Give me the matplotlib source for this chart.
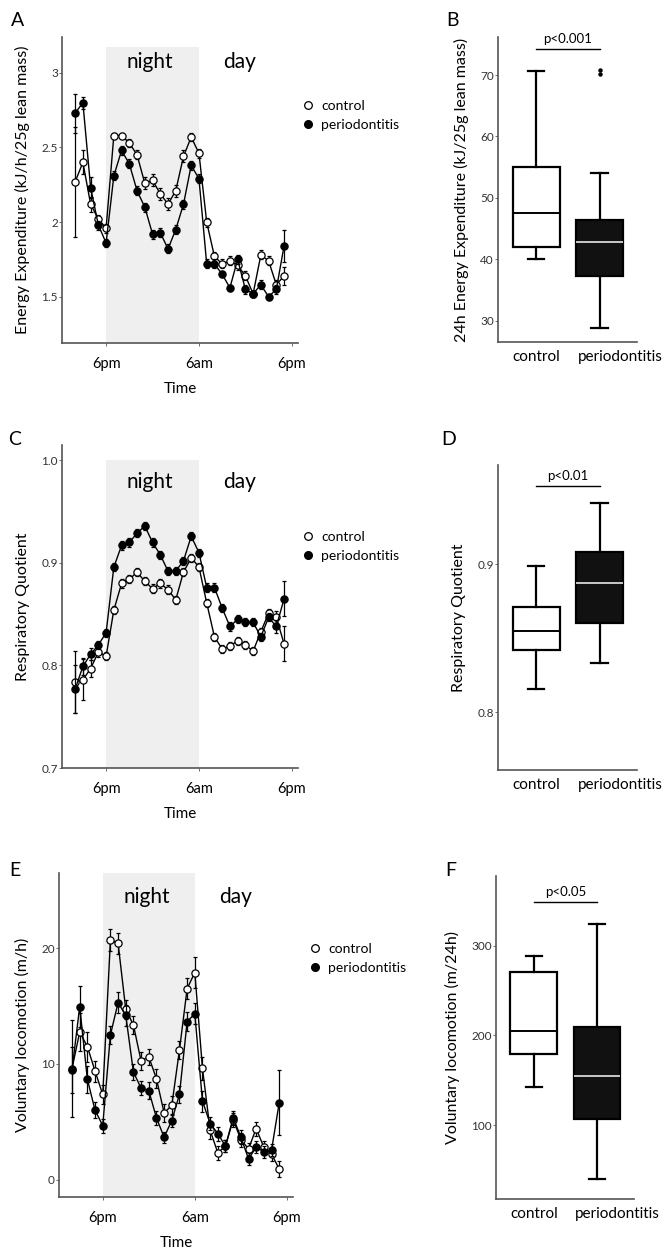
import matplotlib
matplotlib.use("Agg")
import matplotlib.pyplot as plt
from matplotlib.lines import Line2D

plt.rcParams['font.family'] = ['Lato', 'DejaVu Sans']

# hours relative to 6pm (one point per hour, 2pm .. 5pm next day)
hours = list(range(-4, 24))

ee_ctrl = [2.27, 2.40, 2.12, 2.02, 1.96, 2.58, 2.58, 2.53, 2.45, 2.26, 2.28, 2.19, 2.12, 2.21,
           2.44, 2.57, 2.46, 2.00, 1.77, 1.72, 1.74, 1.71, 1.64, 1.52, 1.78, 1.74, 1.58, 1.64]
ee_ctrl_err = [0.37, 0.08, 0.05, 0.03, 0.03, 0.02, 0.02, 0.03, 0.03, 0.04, 0.04, 0.04, 0.04, 0.04,
               0.04, 0.03, 0.03, 0.03, 0.03, 0.03, 0.03, 0.03, 0.03, 0.02, 0.03, 0.03, 0.03, 0.06]
ee_perio = [2.73, 2.80, 2.23, 1.98, 1.86, 2.31, 2.48, 2.39, 2.21, 2.10, 1.92, 1.93, 1.82, 1.95,
            2.12, 2.38, 2.29, 1.72, 1.72, 1.65, 1.56, 1.75, 1.55, 1.52, 1.58, 1.50, 1.55, 1.84]
ee_perio_err = [0.13, 0.04, 0.07, 0.03, 0.03, 0.03, 0.03, 0.03, 0.03, 0.03, 0.03, 0.03, 0.03, 0.03,
                0.03, 0.03, 0.03, 0.03, 0.03, 0.02, 0.02, 0.03, 0.03, 0.02, 0.03, 0.02, 0.03, 0.11]

rq_ctrl = [0.784, 0.786, 0.797, 0.813, 0.809, 0.854, 0.880, 0.884, 0.891, 0.882, 0.875, 0.880, 0.874, 0.864,
           0.891, 0.905, 0.896, 0.861, 0.828, 0.816, 0.819, 0.824, 0.820, 0.814, 0.833, 0.851, 0.847, 0.821]
rq_ctrl_err = [0.030, 0.020, 0.008, 0.005, 0.004, 0.004, 0.004, 0.004, 0.004, 0.004, 0.004, 0.004, 0.004, 0.004,
               0.004, 0.004, 0.004, 0.004, 0.004, 0.004, 0.004, 0.004, 0.004, 0.004, 0.004, 0.004, 0.006, 0.017]
rq_perio = [0.777, 0.799, 0.811, 0.820, 0.832, 0.896, 0.917, 0.920, 0.929, 0.936, 0.920, 0.908, 0.892, 0.892,
            0.902, 0.926, 0.910, 0.876, 0.876, 0.856, 0.838, 0.845, 0.842, 0.842, 0.828, 0.847, 0.838, 0.865]
rq_perio_err = [0.023, 0.008, 0.006, 0.004, 0.004, 0.004, 0.004, 0.004, 0.004, 0.004, 0.004, 0.004, 0.004, 0.004,
                0.004, 0.004, 0.004, 0.004, 0.004, 0.004, 0.004, 0.004, 0.004, 0.004, 0.004, 0.004, 0.006, 0.017]

loc_ctrl = [9.6, 12.76, 11.49, 9.38, 7.36, 20.69, 20.43, 14.72, 13.36, 10.25, 10.62, 8.72, 5.77, 6.41,
            11.2, 16.5, 17.9, 9.61, 4.27, 2.31, 2.9, 5.19, 3.46, 2.66, 4.41, 2.80, 2.22, 0.92]
loc_ctrl_err = [4.2, 1.6, 1.3, 0.9, 0.8, 0.95, 0.9, 0.8, 0.8, 0.8, 0.7, 0.8, 0.8, 0.8,
                0.8, 0.9, 1.3, 1.0, 0.8, 0.6, 0.5, 0.6, 0.6, 0.5, 0.6, 0.5, 0.6, 0.7]
loc_perio = [9.5, 14.95, 8.66, 6.0, 4.67, 12.5, 15.3, 14.2, 9.3, 7.9, 7.7, 5.34, 3.66, 5.11,
             7.36, 13.65, 14.34, 6.78, 4.85, 3.98, 2.89, 5.34, 3.69, 1.79, 2.80, 2.40, 2.54, 6.64]
loc_perio_err = [2.0, 1.8, 1.2, 0.7, 0.6, 0.8, 0.9, 0.9, 0.7, 0.6, 0.7, 0.6, 0.5, 0.6,
                 0.7, 0.8, 0.9, 0.9, 0.6, 0.6, 0.5, 0.6, 0.6, 0.5, 0.5, 0.5, 0.5, 2.8]

groups = ['control', 'periodontitis']
# box stats: whislo, q1, med, q3, whishi
ee24_ctrl = [40.0, 42.0, 47.6, 55.0, 70.7]
ee24_perio = [28.7, 37.3, 42.8, 46.4, 54.1]
ee24_perio_fliers = [70.2, 70.9]
rq24_ctrl = [0.8155, 0.842, 0.855, 0.871, 0.899]
rq24_perio = [0.833, 0.860, 0.887, 0.908, 0.941]
loc24_ctrl = [142, 179.7, 204.5, 270.3, 288.5]
loc24_perio = [39.8, 106.7, 154.6, 208.8, 324.5]

W, H = 668, 1257
fig = plt.figure(figsize=(W / 100, H / 100), dpi=100)
SPINE = '#555555'
TICKC = '#333333'


def px_axes(l, t, r, b):
    return fig.add_axes([l / W, 1 - b / H, (r - l) / W, (b - t) / H])


def style(ax):
    for s in ['top', 'right']:
        ax.spines[s].set_visible(False)
    for s in ['left', 'bottom']:
        ax.spines[s].set_color(SPINE)
        ax.spines[s].set_linewidth(1.2)
    ax.tick_params(axis='y', length=2, width=0.6, color=SPINE, labelsize=8.5, labelcolor=TICKC, pad=1)
    ax.tick_params(axis='x', length=2, width=0.6, color=SPINE, labelsize=10.5, pad=8)


def time_panel(ax, yc, ec, yp, ep, ylim, shade_top, ylabel, yticks, yticklabels, label_y):
    ax.axvspan(0, 12, ymin=0, ymax=(shade_top - ylim[0]) / (ylim[1] - ylim[0]),
               color='#efefef', lw=0, zorder=0)
    ax.errorbar(hours, yc, yerr=ec, color='black', lw=1, marker='o', ms=5.2, mfc='white',
                mec='black', mew=0.9, elinewidth=0.9, capsize=1.6, capthick=0.9, zorder=3)
    ax.errorbar(hours, yp, yerr=ep, color='black', lw=1, marker='o', ms=5.2, mfc='black',
                mec='black', mew=0.9, elinewidth=0.9, capsize=1.6, capthick=0.9, zorder=4)
    ax.set_xlim(-5.7, 24.8)
    ax.set_ylim(*ylim)
    ax.set_xticks([0, 12, 24])
    ax.set_xticklabels(['6pm', '6am', '6pm'])
    ax.set_yticks(yticks)
    ax.set_yticklabels(yticklabels)
    style(ax)
    ax.set_xlabel('Time', fontsize=11, labelpad=8)
    ax.set_ylabel(ylabel, fontsize=11.5, labelpad=8)
    ax.text(5.7, label_y, 'night', transform=ax.get_xaxis_transform(), ha='center', va='center', fontsize=15)
    ax.text(17.3, label_y, 'day', transform=ax.get_xaxis_transform(), ha='center', va='center', fontsize=15)


def legend_at(x, y):
    handles = [Line2D([], [], ls='none', marker='o', ms=5.5, mfc='white', mec='black', mew=0.9),
               Line2D([], [], ls='none', marker='o', ms=5.5, mfc='black', mec='black')]
    fig.legend(handles, groups, loc='upper left', bbox_to_anchor=(x / W, 1 - y / H),
               frameon=False, fontsize=10, handlelength=0.8, handletextpad=0.6,
               labelspacing=0.5, borderpad=0, borderaxespad=0)


def box_panel(ax, ctrl, perio, fliers, ylim, ylabel, yticks, yticklabels, sig_y, sig_txt):
    stats = []
    for name, s, f in [(groups[0], ctrl, []), (groups[1], perio, fliers)]:
        stats.append(dict(label=name, whislo=s[0], q1=s[1], med=s[2], q3=s[3], whishi=s[4], fliers=f))
    bp = ax.bxp(stats, positions=[0, 1], widths=0.74, patch_artist=True, showfliers=True,
                boxprops=dict(lw=1.6, edgecolor='black'),
                whiskerprops=dict(lw=1.6, color='black'),
                capprops=dict(lw=1.6, color='black'),
                medianprops=dict(lw=1.4),
                flierprops=dict(marker='o', ms=2.2, mfc='black', mec='black'))
    bp['boxes'][0].set_facecolor('white')
    bp['boxes'][1].set_facecolor('#111111')
    bp['medians'][0].set_color('black')
    bp['medians'][1].set_color('#c8c8c8')
    for c in bp['caps']:
        xd = c.get_xdata()
        mid = (xd[0] + xd[1]) / 2
        c.set_xdata([mid - 0.13, mid + 0.13])
    ax.set_xlim(-0.6, 1.59)
    ax.set_ylim(*ylim)
    ax.set_yticks(yticks)
    ax.set_yticklabels(yticklabels)
    style(ax)
    # category labels sit a little right of the boxes, as in the original figure
    ax.set_xticks([0, 1.33])
    ax.set_xticklabels(groups)
    ax.tick_params(axis='x', length=0, labelsize=11, pad=6)
    ax.set_ylabel(ylabel, fontsize=11.5, labelpad=8)
    ax.plot([0, 1], [sig_y, sig_y], color='black', lw=1, clip_on=False)
    ax.annotate(sig_txt, (0.5, sig_y), xytext=(0, 3), textcoords='offset points',
                ha='center', va='bottom', fontsize=9.5, annotation_clip=False)


# A
axA = px_axes(62, 37, 298, 343)
time_panel(axA, ee_ctrl, ee_ctrl_err, ee_perio, ee_perio_err, (1.19, 3.24), 3.17,
           'Energy Expenditure (kJ/h/25g lean mass)', [1.5, 2, 2.5, 3], ['1.5', '2', '2.5', '3'], 0.918)
legend_at(302, 100)

# B
axB = px_axes(498, 37, 637, 342)
box_panel(axB, ee24_ctrl, ee24_perio, ee24_perio_fliers, (26.5, 76.2),
          '24h Energy Expenditure (kJ/25g lean mass)', [30, 40, 50, 60, 70],
          ['30', '40', '50', '60', '70'], 74.2, 'p<0.001')

# C
axC = px_axes(62, 445, 298, 768)
time_panel(axC, rq_ctrl, rq_ctrl_err, rq_perio, rq_perio_err, (0.7, 1.015), 1.0,
           'Respiratory Quotient', [0.7, 0.8, 0.9, 1.0], ['0.7', '0.8', '0.9', '1.0'], 0.885)
legend_at(302, 531)

# D
axD = px_axes(498, 465, 637, 770)
box_panel(axD, rq24_ctrl, rq24_perio, [], (0.761, 0.967), 'Respiratory Quotient',
          [0.8, 0.9], ['0.8', '0.9'], 0.9526, 'p<0.01')

# E
axE = px_axes(59, 873, 293, 1197)
time_panel(axE, loc_ctrl, loc_ctrl_err, loc_perio, loc_perio_err, (-1.5, 26.5), 26.5,
           'Voluntary locomotion (m/h)', [0, 10, 20], ['0', '10', '20'], 0.926)
legend_at(309, 943)

# F
axF = px_axes(496, 876, 634, 1199)
box_panel(axF, loc24_ctrl, loc24_perio, [], (17.5, 377.7), 'Voluntary locomotion (m/24h)',
          [100, 200, 300], ['100', '200', '300'], 348.4, 'p<0.05')

for lab, x, y in [('A', 18, 20), ('B', 452, 20), ('C', 15, 440), ('D', 449, 440),
                  ('E', 15, 870), ('F', 451, 870)]:
    fig.text(x / W, 1 - y / H, lab, fontsize=14, ha='center', va='center')

fig.savefig('out.png', dpi=100)
